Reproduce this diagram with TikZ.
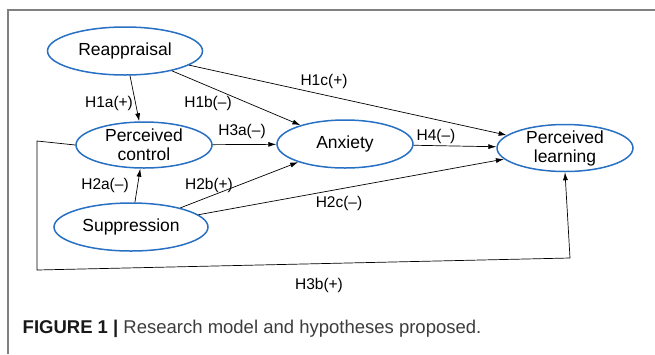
\documentclass[tikz,border=0pt]{standalone}
\usepackage{fontspec}
\setmainfont{Liberation Sans}
\usetikzlibrary{shapes.geometric,arrows.meta}
\definecolor{constructblue}{RGB}{40,112,196}
\definecolor{framegrey}{RGB}{128,128,128}
\definecolor{captiongrey}{RGB}{60,60,60}

\begin{document}
\begin{tikzpicture}[x=1pt,y=-1pt]
        \tikzset{%
            construct/.style={ellipse, draw=constructblue, line width=1.5pt,%
                inner xsep=0pt, inner ysep=-3pt, align=center,%
                font=\fontsize{17.5}{19}\selectfont},%
            hyp/.style={inner sep=0pt, font=\fontsize{15.5}{18}\selectfont},%
            path arrow/.style={-{Latex[length=8pt,width=5pt]}, line width=0.7pt}%
        }%
        \useasboundingbox (0,0) rectangle (655,354);%

        %
        % Frame
        %
        \draw[framegrey, line width=1.2pt] (8,354) -- (8,10) -- (655,10);%

        %
        % Constructs
        %
        \node[construct, minimum width=155pt, minimum height=48pt] (reappraisal) at (125,51) {Reappraisal};%
        \node[construct, minimum width=136pt, minimum height=46pt] (control) at (144,145) {Perceived\\control};%
        \node[construct, minimum width=154pt, minimum height=48pt] (suppression) at (131,227) {Suppression};%
        \node[construct, minimum width=136pt, minimum height=48pt] (anxiety) at (345,144) {Anxiety};%
        \node[construct, minimum width=136pt, minimum height=47pt] (learning) at (565,148) {Perceived\\learning};%

        %
        % Paths
        %
        % Reappraisal
        \draw[path arrow] (reappraisal) -- (control);%
        \draw[path arrow] (reappraisal) -- (anxiety);%
        \draw[path arrow] (reappraisal) -- (learning);%
        % Suppression
        \draw[path arrow] (suppression) -- (control);%
        \draw[path arrow] (suppression) -- (anxiety);%
        \draw[path arrow] (suppression) -- (learning);%
        % Mediators
        \draw[path arrow] (control) -- (anxiety);%
        \draw[path arrow] (anxiety) -- (learning);%
        % Control to learning, round the outside
        \coordinate (loop top) at (37,141);%
        \coordinate (loop bottom) at (37,270);%
        \coordinate (loop end) at (570,258);%
        \draw[path arrow] (control.west) -- (loop top) -- (loop bottom) -- (loop end) -- (learning.south);%

        %
        % Hypotheses
        %
        \node[hyp] (h1a) at (109,103) {H1a(+)};%
        \node[hyp] (h1b) at (208,103) {H1b(–)};%
        \node[hyp] (h1c) at (324,81) {H1c(+)};%
        \node[hyp] (h2a) at (105,185) {H2a(–)};%
        \node[hyp] (h2b) at (209,185) {H2b(+)};%
        \node[hyp] (h2c) at (339,203) {H2c(–)};%
        \node[hyp] (h3a) at (242,131) {H3a(–)};%
        \node[hyp] (h3b) at (319,285) {H3b(+)};%
        \node[hyp] (h4) at (436,136) {H4(–)};%

        %
        % Caption
        %
        \node[anchor=base west, inner sep=0pt, text=captiongrey,%
            font=\fontsize{18.5}{20}\selectfont] (caption) at (22.5,333.5)%
            {\textcolor{black!90}{\textbf{FIGURE 1 |}} Research model and hypotheses proposed.};%
\end{tikzpicture}
\end{document}
